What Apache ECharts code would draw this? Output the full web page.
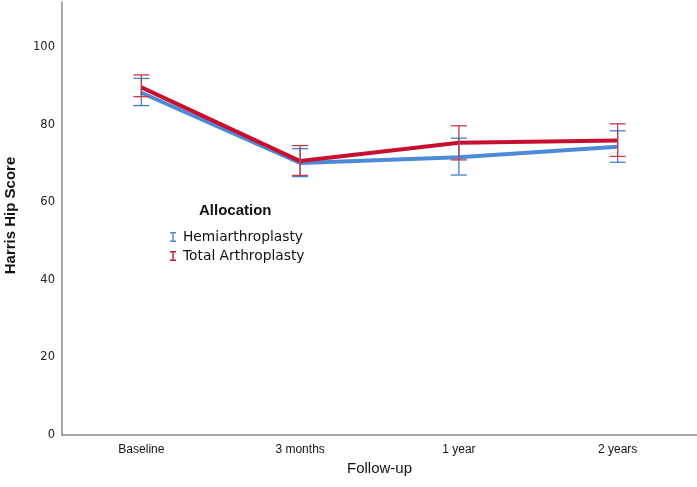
<!DOCTYPE html>
<html>
<head>
<meta charset="utf-8">
<script src="https://cdn.jsdelivr.net/npm/echarts@6/dist/echarts.min.js"></script>
<style>html,body{margin:0;padding:0;background:#fff}#c{width:697px;height:487px}</style>
</head>
<body>
<div id="c"></div>
<script>
var categories = ['Baseline', '3 months', '1 year', '2 years'];
var hemiMean = [88.2, 70.1, 71.6, 74.3];
var hemiLow = [84.9, 66.6, 67.0, 70.3];
var hemiHigh = [91.9, 73.8, 76.5, 78.4];
var totalMean = [89.6, 70.6, 75.3, 75.9];
var totalLow = [87.2, 66.9, 70.9, 71.8];
var totalHigh = [92.8, 74.6, 79.7, 80.2];
var seriesNames = ['Hemiarthroplasty', 'Total Arthroplasty'];
var yTicks = [0, 20, 40, 60, 80, 100];

var blue = '#4a8ad8';
var red = '#c8102e';
var blueBar = '#3f7fcf';
var redBar = '#c43a48';

function errData(low, high) {
  return categories.map(function (c, i) { return [i, low[i], high[i]]; });
}
function errRender(color) {
  return function (params, api) {
    var x = api.value(0);
    var lo = api.coord([x, api.value(1)]);
    var hi = api.coord([x, api.value(2)]);
    var hw = 8;
    var st = { stroke: color, lineWidth: 1.3 };
    return {
      type: 'group',
      children: [
        { type: 'line', shape: { x1: lo[0], y1: lo[1], x2: hi[0], y2: hi[1] }, style: st },
        { type: 'line', shape: { x1: lo[0] - hw, y1: lo[1], x2: lo[0] + hw, y2: lo[1] }, style: st },
        { type: 'line', shape: { x1: hi[0] - hw, y1: hi[1], x2: hi[0] + hw, y2: hi[1] }, style: st }
      ]
    };
  };
}

var chart = echarts.init(document.getElementById('c'));
var iconPath = 'path://M0,0H6V1.4H3.7V8.6H6V10H0V8.6H2.3V1.4H0Z';
chart.setOption({
  animation: false,
  grid: { left: 62, right: 0, top: 2, bottom: 52, containLabel: false, outerBoundsMode: 'none' },
  xAxis: {
    type: 'category',
    data: categories,
    boundaryGap: true,
    name: 'Follow-up',
    nameLocation: 'middle',
    nameGap: 25,
    nameTextStyle: { fontFamily: 'Liberation Sans', fontSize: 15, color: '#111' },
    axisLine: { lineStyle: { color: '#8a8a8a', width: 1.5 } },
    axisTick: { show: false },
    axisLabel: { fontFamily: 'Liberation Sans', fontSize: 12, color: '#111', margin: 9 }
  },
  yAxis: {
    type: 'value',
    min: 0,
    max: 111.6,
    interval: 20,
    name: 'Harris Hip Score',
    nameLocation: 'middle',
    nameGap: 44,
    nameTextStyle: { fontFamily: 'Liberation Sans', fontSize: 15, fontWeight: 'bold', color: '#111', padding: [0, 0, 0, 6] },
    axisLine: { show: true, lineStyle: { color: '#8a8a8a', width: 1.5 } },
    axisTick: { show: false },
    splitLine: { show: false },
    axisLabel: {
      fontFamily: 'DejaVu Sans', fontSize: 11.5, color: '#222', margin: 7,
      showMaxLabel: false,
      formatter: function (v) { return yTicks.indexOf(v) >= 0 ? String(v) : ''; }
    }
  },
  legend: {
    left: 170, top: 230, orient: 'vertical', padding: 0,
    itemWidth: 6, itemHeight: 10, itemGap: 5,
    icon: iconPath,
    data: seriesNames,
    textStyle: { fontFamily: 'DejaVu Sans', fontSize: 13.8, lineHeight: 14, color: '#111', padding: [0, 0, 0, 2] }
  },
  graphic: [{
    type: 'text', left: 199, top: 203,
    style: { text: 'Allocation', font: 'bold 15px "Liberation Sans"', fill: '#111' }
  }],
  series: [
    { name: seriesNames[0], type: 'line', data: hemiMean, symbol: 'none', lineStyle: { color: blue, width: 4 }, itemStyle: { color: blue }, z: 2 },
    { name: seriesNames[1], type: 'line', data: totalMean, symbol: 'none', lineStyle: { color: red, width: 4 }, itemStyle: { color: red }, z: 3 },
    { type: 'custom', renderItem: errRender(blueBar), data: errData(hemiLow, hemiHigh), z: 4, silent: true },
    { type: 'custom', renderItem: errRender(redBar), data: errData(totalLow, totalHigh), z: 5, silent: true }
  ]
});
</script>
</body>
</html>
